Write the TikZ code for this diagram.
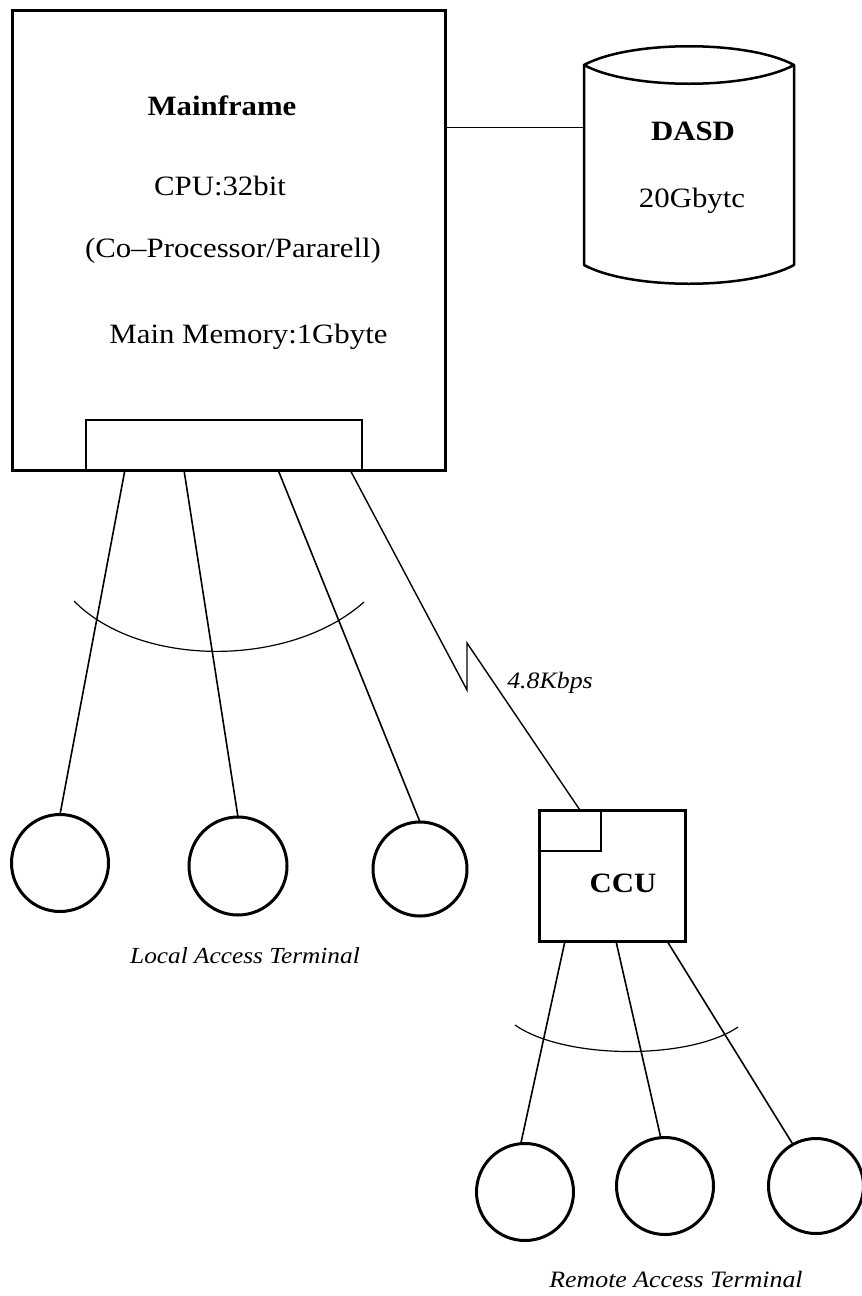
\documentclass[tikz,border=0pt]{standalone}
\usepackage{fontspec}
\setmainfont{Liberation Serif}[FakeStretch=1.1]
\usetikzlibrary{calc}
\begin{document}
\begin{tikzpicture}[x=1pt,y=-1pt,
  box/.style={draw, line width=3pt, inner sep=0pt, outer sep=0pt},
  thinbox/.style={draw, line width=1.4pt, inner sep=0pt, outer sep=0pt},
  term/.style={draw, circle, line width=3pt, inner sep=0pt, outer sep=0pt},
  wire/.style={line width=1.6pt},
  sweep/.style={line width=1.2pt},
  rmlabel/.style={inner sep=0pt, anchor=base, font=\fontsize{28}{32}\selectfont},
  bflabel/.style={inner sep=0pt, anchor=base, font=\fontsize{28}{32}\selectfont\bfseries},
  itlabel/.style={inner sep=0pt, anchor=base, font=\fontsize{23.5}{27}\selectfont\itshape},
]
\useasboundingbox (0,0) rectangle (862,1296);
% Mainframe
\node[box, minimum width=433pt, minimum height=460pt] (mf) at (228.5,240) {};
\node[thinbox, minimum width=276pt, minimum height=50pt] (port) at (224,445) {};
\node[bflabel] (mft) at (222,115) {Mainframe};
\node[rmlabel] (cpu) at (220,195) {CPU:32bit};
\node[rmlabel] (cop) at (233,257) {(Co–Processor/Pararell)};
\node[rmlabel] (mem) at (248.5,343) {Main Memory:1Gbyte};
% DASD
\node[inner sep=0pt, outer sep=0pt, minimum width=210pt, minimum height=200pt] (dasd) at (689,165) {};
\draw[line width=2.5pt, line join=round] (dasd.north west) .. controls +(46,-25) and +(-46,-25) .. (dasd.north east) -- (dasd.south east) .. controls +(-46,25) and +(46,25) .. (dasd.south west) -- cycle;
\draw[line width=2.5pt] (dasd.north west) .. controls +(46,25) and +(-46,25) .. (dasd.north east);
\node[bflabel] (dasdt) at (693,140) {DASD};
\node[rmlabel] (dasdc) at (692,207) {20Gbytc};
\coordinate (dl) at (445,127);
\draw[line width=1pt] (dl) -- (dl -| dasd.west);
% local terminals
\node[term, minimum size=97pt] (l1) at (60,863) {};
\node[term, minimum size=98pt] (l2) at (238,866) {};
\node[term, minimum size=94pt] (l3) at (420,869) {};
\draw[wire] ($(port.south west)!0.141!(port.south east)$) -- (l1.north);
\draw[wire] ($(port.south west)!0.355!(port.south east)$) -- (l2.north);
\draw[wire] ($(port.south west)!0.696!(port.south east)$) -- (l3.north);
\draw[sweep] (74,601) .. controls (140,668) and (290,668) .. (364,602);
\node[itlabel, font=\fontsize{23}{27}\selectfont\itshape] (loct) at (245,963) {Local Access Terminal};
% CCU
\node[box, minimum width=146pt, minimum height=131pt] (ccu) at (612,875.5) {};
\draw[line width=1.4pt] ($(ccu.north west)+(0,41)$) -| ($(ccu.north west)+(62,0)$);
\node[bflabel] (ccut) at (623,892) {CCU};
\coordinate (zz1) at (467,690);
\coordinate (zz2) at (467,643);
\draw[line width=1.4pt, line join=miter] ($(port.south west)!0.957!(port.south east)$) -- (zz1) -- (zz2) -- ($(ccu.north west)!0.28!(ccu.north east)$);
\node[itlabel] (speed) at (550,688) {4.8Kbps};
% remote terminals
\node[term, minimum size=97pt] (r1) at (525,1192) {};
\node[term, minimum size=97pt] (r2) at (665,1186) {};
\node[term, minimum size=95pt] (r3) at (816,1186) {};
\draw[wire] ($(ccu.south west)!0.178!(ccu.south east)$) -- (r1.95);
\draw[wire] ($(ccu.south west)!0.527!(ccu.south east)$) -- (r2.95);
\draw[wire] ($(ccu.south west)!0.877!(ccu.south east)$) -- (r3.119);
\draw[sweep] (515,1025) .. controls (565,1060) and (690,1060) .. (738,1027);
\node[itlabel] (remt) at (676,1287) {Remote Access Terminal};
\end{tikzpicture}
\end{document}
